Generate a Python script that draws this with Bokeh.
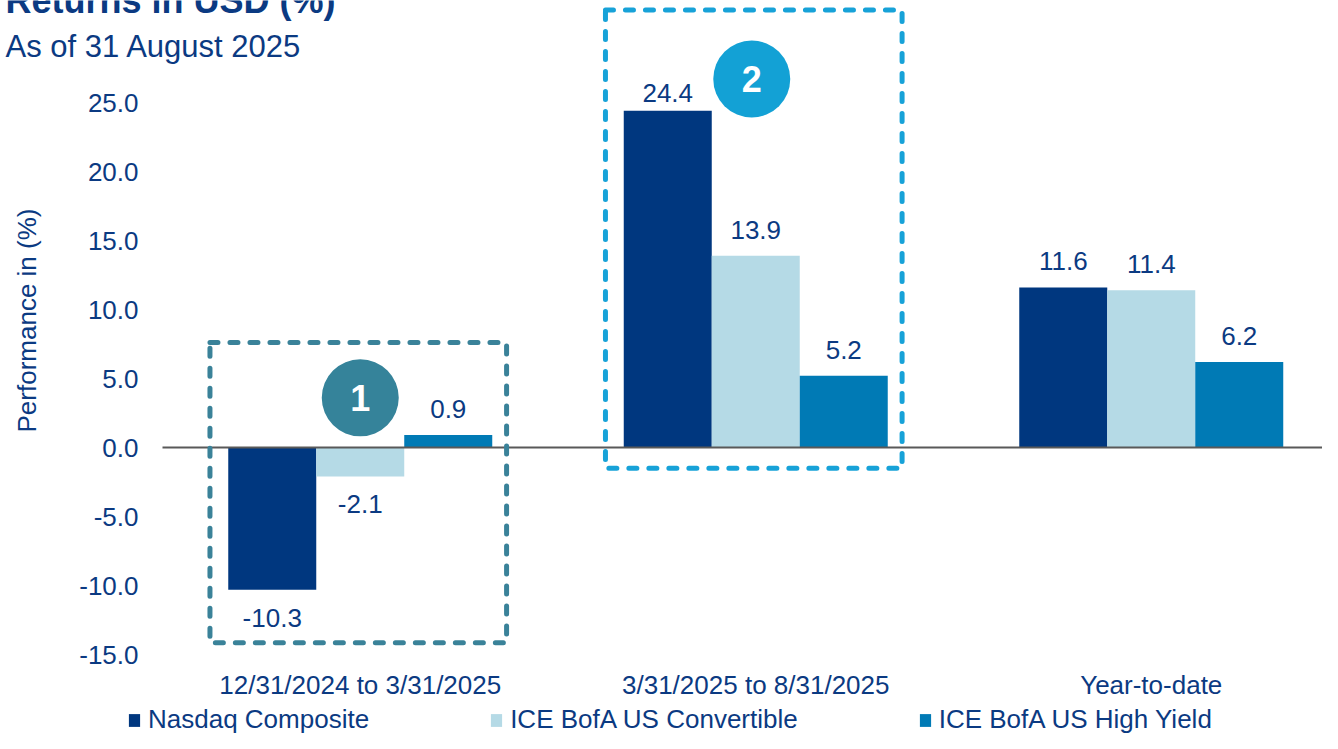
import math
from bokeh.plotting import figure
from bokeh.models import (Range1d, FixedTicker, Label, Legend, LegendItem,
                          ColumnDataSource, PrintfTickFormatter)
from bokeh.embed import file_html
from bokeh.resources import INLINE
from bokeh.core.properties import value

# ---------------- data ----------------
categories = ["12/31/2024 to 3/31/2025", "3/31/2025 to 8/31/2025", "Year-to-date"]
series_names = ["Nasdaq Composite", "ICE BofA US Convertible", "ICE BofA US High Yield"]
nasdaq = [-10.3, 24.4, 11.6]
convertible = [-2.1, 13.9, 11.4]
high_yield = [0.9, 5.2, 6.2]
y_ticks = [-15, -10, -5, 0, 5, 10, 15, 20, 25]
title_text = "Returns in USD (%)"
subtitle_text = "As of 31 August 2025"
y_label_text = "Performance in (%)"
callout_numbers = ["1", "2"]
callout_groups = [0, 1]
callout_y = [3.6, 26.7]
box_groups = [0, 1]
box_y = [(-14.15, 7.6), (-1.5, 31.7)]

# ---------------- style / layout ----------------
FONT = "Liberation Sans"
NAVY_TEXT = "#0B3A82"
series_colors = ["#00377F", "#B5DAE6", "#007AB5"]
callout_colors = ["#35839A", "#13A1D5"]
callout_dx_px = [0, -4]
box_colors = ["#3A8299", "#17A2D8"]

W, H = 1322, 733
PLOT_LEFT_PX = 162      # left edge of the first category band
Y25_PX = 102            # pixel row of the 25.0 tick
PX_PER_CAT = 395.5
PX_PER_UNIT = 13.8
Y_MIN = -15.0

x_start = -0.5 - PLOT_LEFT_PX / PX_PER_CAT
x_end = x_start + W / PX_PER_CAT
y_end = y_ticks[-1] + Y25_PX / PX_PER_UNIT
y_start = y_end - H / PX_PER_UNIT


def fx_to_x(fx):
    return x_start + fx / PX_PER_CAT


def fy_to_y(fy):
    return y_end - fy / PX_PER_UNIT


p = figure(frame_width=W, frame_height=H,
           x_range=Range1d(x_start, x_end), y_range=Range1d(y_start, y_end),
           output_backend="svg", toolbar_location=None,
           min_border=0, min_border_left=0, min_border_right=0,
           min_border_top=0, min_border_bottom=0)
p.outline_line_color = None
p.xgrid.visible = False
p.ygrid.visible = False
p.background_fill_color = "white"
p.border_fill_color = "white"

# axes (fixed inside the frame so that annotations are not clipped)
for ax in (p.xaxis[0], p.yaxis[0]):
    ax.axis_line_color = None
    ax.major_tick_line_color = None
    ax.minor_tick_line_color = None
    ax.major_label_text_font = FONT
    ax.major_label_text_font_size = "26px"
    ax.major_label_text_color = NAVY_TEXT

p.yaxis.ticker = FixedTicker(ticks=y_ticks)
p.yaxis.formatter = PrintfTickFormatter(format="%.1f")
p.yaxis.major_label_standoff = 18
p.yaxis.fixed_location = -0.5

p.xaxis.ticker = FixedTicker(ticks=list(range(len(categories))))
p.xaxis.major_label_overrides = {i: c for i, c in enumerate(categories)}
p.xaxis.major_label_standoff = 9
p.xaxis.fixed_location = Y_MIN

# bars
bar_w = 0.2225
offsets = [-bar_w, 0.0, bar_w]
all_series = [nasdaq, convertible, high_yield]
renderers = []
lx, ly, lt = [], [], []
label_gap_up = 26 / PX_PER_UNIT
label_gap_down = 28 / PX_PER_UNIT
label_max = fy_to_y(92)
for vals, off, col in zip(all_series, offsets, series_colors):
    xs = [i + off for i in range(len(categories))]
    src = ColumnDataSource(dict(x=xs, top=vals))
    r = p.vbar(x="x", top="top", bottom=0, width=bar_w, source=src,
               fill_color=col, line_color=None)
    renderers.append(r)
    for x, v in zip(xs, vals):
        lx.append(x)
        if v >= 0:
            ly.append(min(v + label_gap_up, label_max))
        else:
            ly.append(v - label_gap_down)
        lt.append(f"{v:.1f}")

p.text(x=lx, y=ly, text=lt, text_align="center", text_baseline="middle",
       text_font=value(FONT), text_font_size="26px", text_color=NAVY_TEXT)

# zero line across the plot area
p.segment(x0=[-0.5], x1=[x_end], y0=[0], y1=[0], line_color="#595959", line_width=2)

# dashed callout boxes
for g, (yb, yt), col in zip(box_groups, box_y, box_colors):
    p.quad(left=[g - 0.38], right=[g + 0.37], bottom=[yb], top=[yt],
           fill_alpha=0, line_color=col, line_width=5, line_dash="8 12",
           line_cap="round", line_join="round")

# numbered circles
cx = [g + d / PX_PER_CAT for g, d in zip(callout_groups, callout_dx_px)]
p.scatter(x=cx, y=callout_y, size=77, marker="circle",
          fill_color=callout_colors, line_color=None)
p.text(x=cx, y=callout_y, text=callout_numbers, text_align="center",
       text_baseline="middle", text_font=value(FONT), text_font_size="36px",
       text_font_style="bold", text_color="white")

# titles
p.add_layout(Label(x=fx_to_x(5), y=fy_to_y(0), text=title_text, text_font=FONT,
                   text_font_size="36px", text_font_style="bold", text_color=NAVY_TEXT,
                   text_baseline="alphabetic", text_align="left"))
p.add_layout(Label(x=fx_to_x(5), y=fy_to_y(46), text=subtitle_text, text_font=FONT,
                   text_font_size="31px", text_color=NAVY_TEXT,
                   text_baseline="alphabetic", text_align="left"))
p.add_layout(Label(x=fx_to_x(26), y=fy_to_y(320), text=y_label_text, text_font=FONT,
                   text_font_size="26px", text_color=NAVY_TEXT, angle=math.pi / 2,
                   text_baseline="middle", text_align="center"))

# legend
legend = Legend(items=[LegendItem(label=n, renderers=[r]) for n, r in zip(series_names, renderers)],
                orientation="horizontal", location=(127, -2),
                glyph_width=14, glyph_height=16, label_standoff=7, spacing=120,
                padding=0, margin=0, label_text_font=FONT, label_text_font_size="26px",
                label_text_color=NAVY_TEXT, background_fill_alpha=0, border_line_alpha=0)
p.add_layout(legend)

open("out.html", "w").write(file_html(p, INLINE))
